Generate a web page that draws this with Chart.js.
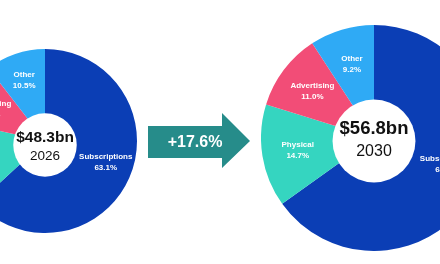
<!DOCTYPE html>
<html>
<head>
<meta charset="utf-8">
<script src="https://cdn.jsdelivr.net/npm/chart.js@4.4.0/dist/chart.umd.min.js"></script>
<style>
  html, body { margin: 0; padding: 0; background: #fff; }
  #stage { position: relative; width: 440px; height: 264px; overflow: hidden; background: #fff; }
  .pie { position: absolute; }
  #arrow { position: absolute; left: 0; top: 0; }
</style>
</head>
<body>
<div id="stage">
  <canvas id="pie2026" class="pie" width="184" height="184" style="left:-47px;top:49px"></canvas>
  <canvas id="pie2030" class="pie" width="226" height="226" style="left:261px;top:25px"></canvas>
  <svg id="arrow" width="440" height="264">
    <polygon points="148,126 222,126 222,113 250,141 222,168 222,158 148,158" fill="#268c8a" />
    <text id="growth-label" x="195" y="147" fill="#fff" font-family="Liberation Sans, Arial, sans-serif"
      font-weight="bold" font-size="16" text-anchor="middle"></text>
  </svg>
</div>
<script>
  const segments = ["Subscriptions", "Physical", "Advertising", "Other"];
  const share2026 = [63.1, 15.4, 11.0, 10.5];
  const share2030 = [65.1, 14.7, 11.0, 9.2];
  const segmentColors = ["#0b3eb5", "#35d5c0", "#f24d77", "#2faaf5"];
  const totals = ["$48.3bn", "$56.8bn"];
  const years = ["2026", "2030"];
  const growth = "+17.6%";

  document.getElementById("growth-label").textContent = growth;

  const FONT = "'Liberation Sans', Arial, sans-serif";

  // white hole (sits a touch low, like the original), labels on each arc, total in the middle
  const pieText = {
    id: "pieText",
    afterDatasetsDraw(chart, args, opts) {
      const ctx = chart.ctx;
      const meta = chart.getDatasetMeta(0);
      const values = chart.data.datasets[0].data;
      const c = meta.data[0];
      const outer = c.outerRadius;
      ctx.save();

      ctx.fillStyle = "#fff";
      ctx.beginPath();
      ctx.arc(c.x, c.y + opts.holeDy, outer * opts.hole, 0, Math.PI * 2);
      ctx.fill();

      ctx.textAlign = "center";
      ctx.textBaseline = "middle";
      ctx.font = "bold 8px " + FONT;
      meta.data.forEach((arc, i) => {
        const p = arc.getProps(["x", "y", "startAngle", "endAngle"]);
        const inner = outer * opts.hole;
        const r = inner + (outer - inner) * opts.labelR;
        const a = (p.startAngle + p.endAngle) / 2 + (opts.nudge[i] * Math.PI) / 180;
        const x = p.x + r * Math.cos(a);
        const y = p.y + r * Math.sin(a);
        ctx.fillText(chart.data.labels[i], x, y - 5.5);
        ctx.fillText(values[i].toFixed(1) + "%", x, y + 5.5);
      });

      ctx.fillStyle = "#111";
      ctx.font = "bold " + opts.totalSize + "px " + FONT;
      ctx.fillText(opts.total, c.x, c.y + opts.totalDy);
      ctx.font = opts.yearSize + "px " + FONT;
      ctx.fillText(opts.year, c.x, c.y + opts.yearDy);
      ctx.restore();
    },
  };

  function makePie(id, values, text) {
    return new Chart(document.getElementById(id), {
      type: "doughnut",
      data: {
        labels: segments,
        datasets: [
          {
            data: values,
            backgroundColor: segmentColors,
            borderWidth: 0,
          },
        ],
      },
      options: {
        responsive: false,
        animation: false,
        cutout: "20%",
        layout: { padding: 0 },
        plugins: {
          legend: { display: false },
          tooltip: { enabled: false },
          pieText: text,
        },
      },
      plugins: [pieText],
    });
  }

  makePie("pie2026", share2026, {
    total: totals[0], year: years[0],
    hole: 0.345, holeDy: 4, labelR: 0.54, nudge: [-4.5, 0, -2.5, 0],
    totalSize: 15.5, totalDy: -3, yearSize: 13.5, yearDy: 15,
  });
  makePie("pie2030", share2030, {
    total: totals[1], year: years[1],
    hole: 0.367, holeDy: 3, labelR: 0.5, nudge: [-7, 0, 0, 0],
    totalSize: 18.5, totalDy: -9, yearSize: 16, yearDy: 14,
  });
</script>
</body>
</html>
